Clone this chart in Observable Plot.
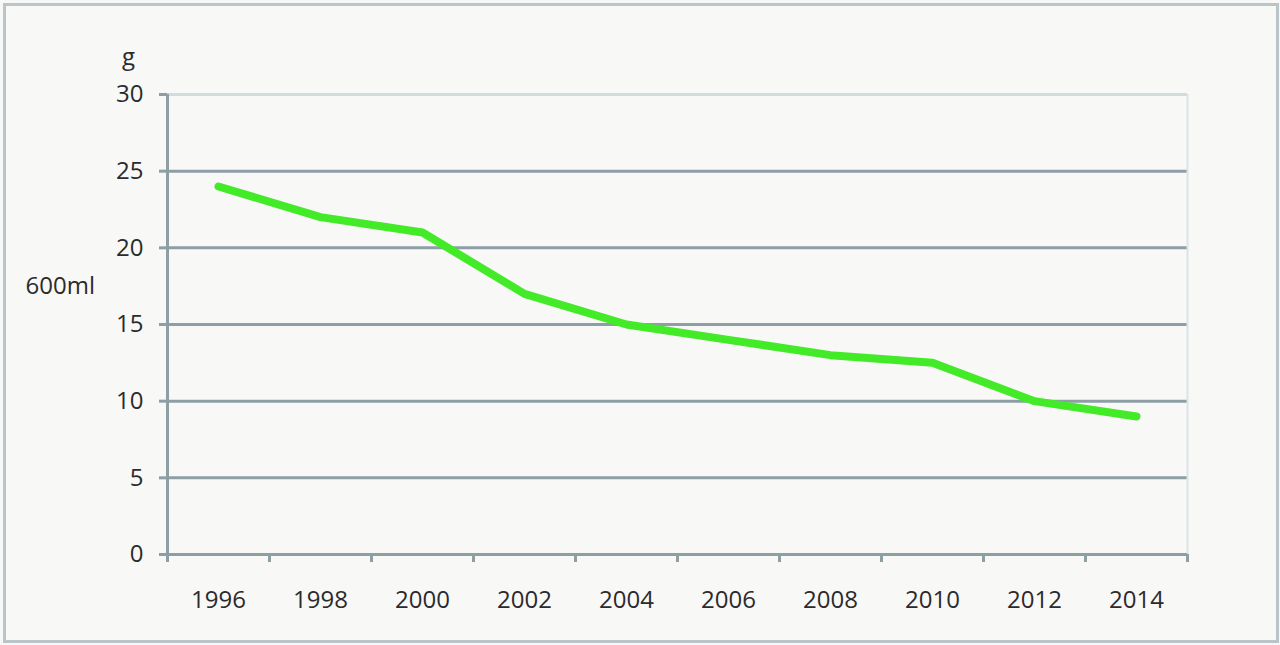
<!DOCTYPE html>
<html>
<head>
<meta charset="utf-8">
<script src="https://cdn.jsdelivr.net/npm/d3@7"></script>
<script src="https://cdn.jsdelivr.net/npm/@observablehq/plot@0.6"></script>
<style>
  html, body { margin: 0; padding: 0; background: #f8f8f7; }
  #wrap { position: relative; width: 1280px; height: 645px; overflow: hidden; }
  #border { position: absolute; left: 3px; top: 3px; width: 1270px; height: 634px; border: 3px solid #b9c5c9; pointer-events: none; }
</style>
</head>
<body>
<div id="wrap"><div id="border"></div></div>
<script>
const years = [1996, 1998, 2000, 2002, 2004, 2006, 2008, 2010, 2012, 2014];
const values = [24, 22, 21, 17, 15, 14, 13, 12.5, 10, 9];
const yTicks = [0, 5, 10, 15, 20, 25, 30];
const boundaryTicks = [1995, 1997, 1999, 2001, 2003, 2005, 2007, 2009, 2011, 2013, 2015];
const unitLabel = "g";
const sideLabel = "600ml";

const data = years.map((y, i) => ({year: y, value: values[i]}));
const font = "'Open Sans', sans-serif";
const axisColor = "#8d9ea5";
const textColor = "#2b2b2b";

const chart = Plot.plot({
  width: 1280,
  height: 645,
  marginLeft: 167,
  marginRight: 93,
  marginTop: 94,
  marginBottom: 91,
  style: {background: "transparent", fontFamily: font, fontSize: "24px", color: textColor},
  x: {domain: [1995, 2015], axis: null},
  y: {domain: [0, 30], axis: null},
  marks: [
    Plot.gridY(yTicks.filter(d => d > 0 && d < 30), {stroke: axisColor, strokeWidth: 3, strokeOpacity: 1}),
    Plot.gridY([30], {stroke: "#d3dbdd", strokeWidth: 3, strokeOpacity: 1}),
    Plot.ruleX([2015], {stroke: "#dde3e5", strokeWidth: 2}),
    Plot.ruleX([1995], {stroke: axisColor, strokeWidth: 3}),
    Plot.ruleY([0], {stroke: axisColor, strokeWidth: 3}),
    Plot.axisY({ticks: yTicks, tickSize: 8, tickPadding: 16, stroke: axisColor, strokeWidth: 3, fill: textColor, label: null, fontSize: 24, tickFormat: d => String(d)}),
    Plot.axisX({ticks: boundaryTicks, tickSize: 8, stroke: axisColor, strokeWidth: 3, tickFormat: () => "", label: null}),
    Plot.axisX({ticks: years, tickSize: 0, tickPadding: 36, fill: textColor, label: null, fontSize: 24, tickFormat: d => String(d)}),
    Plot.line(data, {x: "year", y: "value", stroke: "#43ea27", strokeWidth: 8, strokeLinecap: "round", strokeLinejoin: "round"}),
    Plot.text([unitLabel], {x: 1995, y: 30, text: d => d, dx: -39, dy: -37, fontSize: 24, fill: textColor, textAnchor: "middle"}),
    Plot.text([sideLabel], {x: 1995, y: 17.5, text: d => d, dx: -142, fontSize: 24, fill: textColor, textAnchor: "start"})
  ]
});
document.getElementById("wrap").appendChild(chart);
chart.style.position = "absolute";
chart.style.left = "0";
chart.style.top = "0";
</script>
</body>
</html>
